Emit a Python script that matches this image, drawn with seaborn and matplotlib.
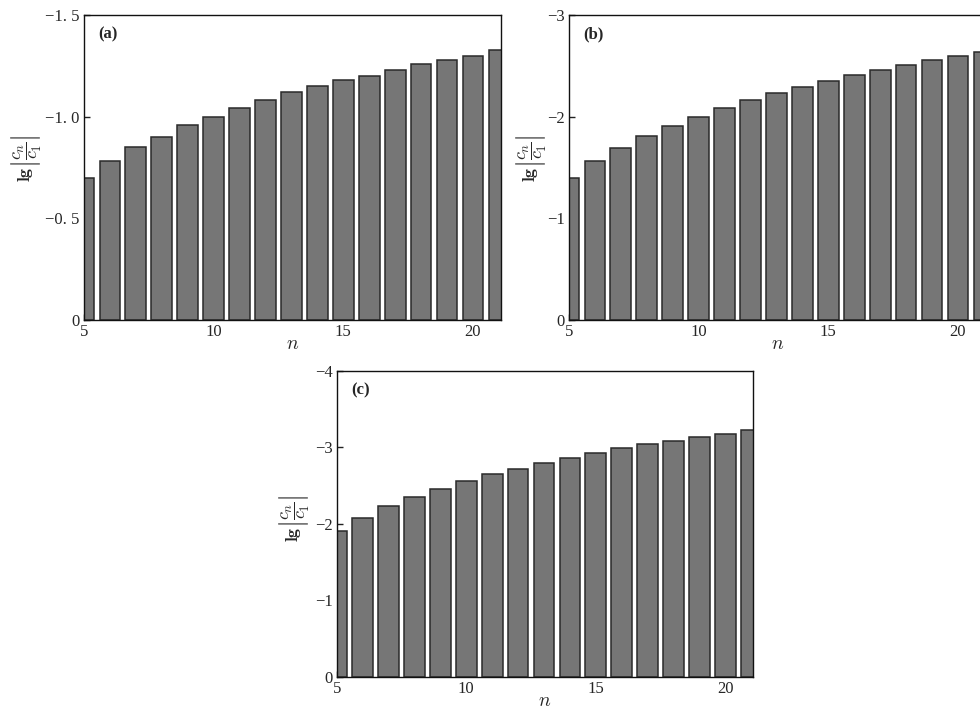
import matplotlib
matplotlib.use("Agg")
import matplotlib.pyplot as plt
import seaborn as sns
import pandas as pd

n_values = list(range(5, 22))
vals_a = [-0.70, -0.78, -0.85, -0.90, -0.96, -1.00, -1.04, -1.08, -1.12, -1.15,
          -1.18, -1.20, -1.23, -1.26, -1.28, -1.30, -1.33]
vals_b = [-1.40, -1.56, -1.69, -1.81, -1.91, -2.00, -2.08, -2.16, -2.23, -2.29,
          -2.35, -2.41, -2.46, -2.51, -2.56, -2.60, -2.64]
vals_c = [-1.91, -2.07, -2.23, -2.35, -2.45, -2.56, -2.65, -2.72, -2.79, -2.86,
          -2.93, -2.99, -3.05, -3.09, -3.14, -3.18, -3.23]

panel_labels = ["(a)", "(b)", "(c)"]
yticks_a = [0, -0.5, -1.0, -1.5]
ylabels_a = ["0", "\u22120. 5", "\u22121. 0", "\u22121. 5"]
yticks_b = [0, -1, -2, -3]
ylabels_b = ["0", "\u22121", "\u22122", "\u22123"]
yticks_c = [0, -1, -2, -3, -4]
ylabels_c = ["0", "\u22121", "\u22122", "\u22123", "\u22124"]
xticks = [5, 10, 15, 20]

sns.set_theme(style="ticks")
plt.rcParams["font.family"] = ["Liberation Serif", "DejaVu Serif"]
plt.rcParams["mathtext.fontset"] = "cm"
plt.rcParams["xtick.direction"] = "in"
plt.rcParams["ytick.direction"] = "in"

fig = plt.figure(figsize=(9.8, 7.09), dpi=100)
positions = [
    [0.0857, 0.5487, 0.4255, 0.4302],
    [0.5806, 0.5487, 0.4255, 0.4302],
    [0.3436, 0.0456, 0.4251, 0.4312],
]
label_x = [-0.098, -0.05, -0.062]
label_y = [0.53, 0.53, 0.52]
datasets = [vals_a, vals_b, vals_c]
ylims = [-1.5, -3, -4]
yticks_all = [yticks_a, yticks_b, yticks_c]
ylabels_all = [ylabels_a, ylabels_b, ylabels_c]

for i, (pos, vals, ylim, yt, yl, pl) in enumerate(zip(positions, datasets, ylims, yticks_all, ylabels_all, panel_labels)):
    ax = fig.add_axes(pos)
    df = pd.DataFrame({"n": n_values, "v": vals})
    sns.barplot(data=df, x="n", y="v", native_scale=True, width=0.8,
                color="#767676", saturation=1, edgecolor="#2a2a2a", linewidth=1.1, ax=ax)
    ax.set_xlim(5, 21.08)
    ax.set_ylim(0, ylim)
    ax.set_xticks(xticks)
    ax.set_xticklabels([str(t) for t in xticks], fontsize=12)
    ax.set_yticks(yt)
    ax.set_yticklabels(yl, fontsize=12)
    ax.tick_params(axis="both", length=4, width=1.0, color="#222222", pad=3)
    for s in ax.spines.values():
        s.set_visible(True)
        s.set_color("#111111")
        s.set_linewidth(1.0)
    ax.set_xlabel(r"$n$", fontsize=14, labelpad=-3)
    ax.set_ylabel(r"$\mathbf{lg}\left|\dfrac{c_n}{c_1}\right|$", fontsize=13)
    ax.yaxis.set_label_coords(label_x[i], label_y[i])
    ax.text(0.035, 0.935, pl, transform=ax.transAxes, fontsize=12,
            fontweight="bold", ha="left", va="center")

fig.savefig("out.png", dpi=100)
